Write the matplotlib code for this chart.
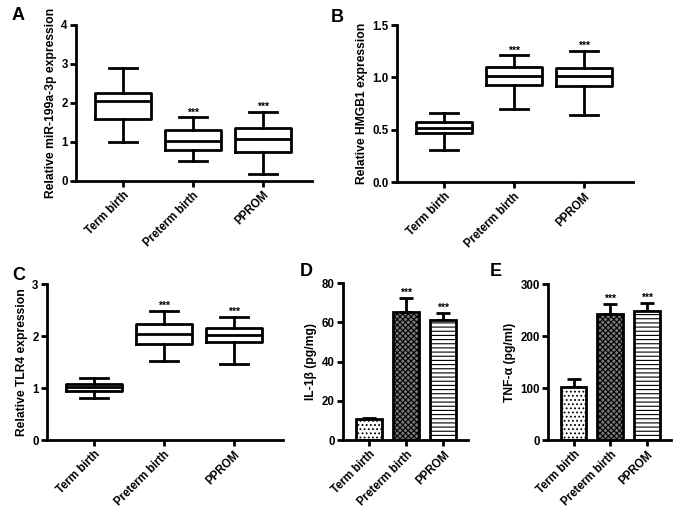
import matplotlib
matplotlib.use("Agg")
import matplotlib.pyplot as plt

plt.rcParams['font.family'] = ['Liberation Sans', 'DejaVu Sans']
plt.rcParams['font.weight'] = 'bold'
plt.rcParams['hatch.linewidth'] = 0.8

cats = ['Term birth', 'Preterm birth', 'PPROM']

# Panel A: miR-199a-3p box stats
a_lo = [1.0, 0.5, 0.18]
a_q1 = [1.6, 0.8, 0.75]
a_med = [2.05, 1.03, 1.08]
a_q3 = [2.25, 1.3, 1.35]
a_hi = [2.9, 1.63, 1.77]

# Panel B: HMGB1
b_lo = [0.31, 0.70, 0.64]
b_q1 = [0.47, 0.93, 0.92]
b_med = [0.52, 1.01, 1.01]
b_q3 = [0.57, 1.10, 1.09]
b_hi = [0.66, 1.21, 1.25]

# Panel C: TLR4
c_lo = [0.80, 1.52, 1.46]
c_q1 = [0.95, 1.84, 1.88]
c_med = [1.02, 2.03, 2.02]
c_q3 = [1.07, 2.23, 2.15]
c_hi = [1.20, 2.48, 2.37]

# Panel D: IL-1beta
d_mean = [10.5, 65.0, 61.0]
d_err = [0.8, 7.5, 3.7]

# Panel E: TNF-alpha
e_mean = [101, 243, 249]
e_err = [16, 19, 14]

stars = ['', '***', '***']

fig = plt.figure(figsize=(6.77, 5.11), dpi=100)

LW = 2.0
TICKFS = 8.3
LABFS = 8.7


def style_axes(ax):
    for s in ['top', 'right']:
        ax.spines[s].set_visible(False)
    for s in ['left', 'bottom']:
        ax.spines[s].set_linewidth(LW)
    ax.tick_params(axis='both', width=LW, length=4, labelsize=TICKFS, pad=2)
    for lab in ax.get_yticklabels():
        lab.set_fontweight('bold')
    ax.set_xticks(range(len(cats)))
    ax.set_xticklabels(cats, rotation=45, ha='right', rotation_mode='anchor',
                       fontsize=TICKFS, fontweight='bold')


def box_panel(rect, lo, q1, med, q3, hi, yticks, ylabel, starpad, yticklabels=None):
    ax = fig.add_axes(rect)
    stats = []
    for i in range(len(cats)):
        stats.append(dict(whislo=lo[i], q1=q1[i], med=med[i], q3=q3[i],
                          whishi=hi[i], fliers=[], label=cats[i]))
    ax.bxp(stats, positions=range(len(cats)), widths=0.8, showfliers=False,
           boxprops=dict(linewidth=LW, color='black'),
           medianprops=dict(linewidth=LW, color='black'),
           whiskerprops=dict(linewidth=LW, color='black'),
           capprops=dict(linewidth=LW, color='black'),
           capwidths=0.4)
    for i, s in enumerate(stars):
        if s:
            ax.text(i, hi[i] + starpad, s, ha='center', va='bottom', fontsize=7.5)
    ax.set_xlim(-0.67, 2.7)
    ax.set_ylim(yticks[0], yticks[-1])
    ax.set_yticks(yticks)
    if yticklabels:
        ax.set_yticklabels(yticklabels)
    ax.set_ylabel(ylabel, fontsize=LABFS, fontweight='bold', labelpad=3)
    style_axes(ax)
    return ax


def bar_panel(rect, means, errs, yticks, ylabel, starpad):
    ax = fig.add_axes(rect)
    faces = ['white', '#7a7a7a', 'white']
    hatches = ['....', 'xxxxxx', '----']
    for i in range(len(cats)):
        ax.bar(i, means[i], width=0.7, color=faces[i], edgecolor='black',
               linewidth=LW, hatch=hatches[i], zorder=2)
        ax.errorbar(i, means[i], yerr=[[0], [errs[i]]], color='black',
                    elinewidth=LW, capsize=5, capthick=LW, zorder=1)
        if stars[i]:
            ax.text(i, means[i] + errs[i] + starpad, stars[i], ha='center',
                    va='bottom', fontsize=7.5)
    ax.set_xlim(-0.7, 2.66)
    ax.set_ylim(yticks[0], yticks[-1])
    ax.set_yticks(yticks)
    ax.set_ylabel(ylabel, fontsize=LABFS, fontweight='bold', labelpad=3)
    style_axes(ax)
    return ax


box_panel([0.1123, 0.6458, 0.3486, 0.3053], a_lo, a_q1, a_med, a_q3, a_hi,
          [0, 1, 2, 3, 4], 'Relative miR-199a-3p expression', 0.0)
box_panel([0.5864, 0.6438, 0.3486, 0.3072], b_lo, b_q1, b_med, b_q3, b_hi,
          [0, 0.5, 1.0, 1.5], 'Relative HMGB1 expression', 0.0,
          ['0.0', '0.5', '1.0', '1.5'])
box_panel([0.0694, 0.1389, 0.3486, 0.3053], c_lo, c_q1, c_med, c_q3, c_hi,
          [0, 1, 2, 3], 'Relative TLR4 expression', 0.0)
bar_panel([0.5066, 0.1389, 0.1846, 0.3072], d_mean, d_err,
          [0, 20, 40, 60, 80], 'IL-1β (pg/mg)', 0.0)
bar_panel([0.8095, 0.1389, 0.1817, 0.3053], e_mean, e_err,
          [0, 100, 200, 300], 'TNF-α (pg/ml)', 0.0)

for letter, x, y in [('A', 12, 15), ('B', 331, 18), ('C', 12, 276),
                     ('D', 300, 272), ('E', 490, 272)]:
    fig.text(x / 677, 1 - y / 511, letter, fontsize=13, fontweight='bold',
             ha='left', va='center')

fig.savefig('out.png', dpi=100)
